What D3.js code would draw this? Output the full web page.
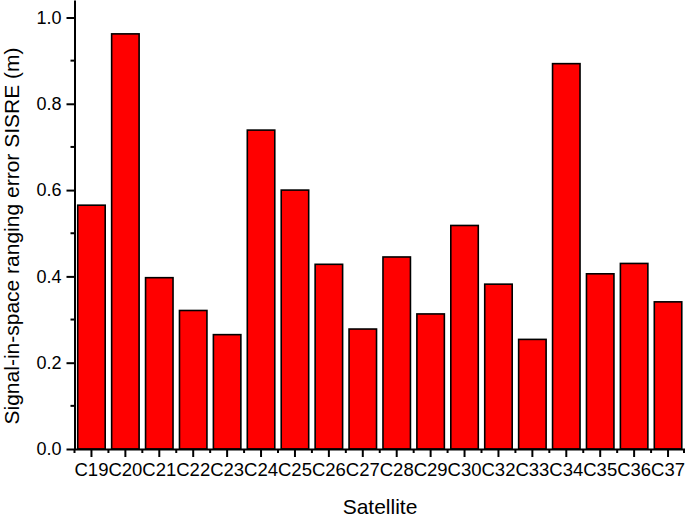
<!DOCTYPE html>
<html><head><meta charset="utf-8">
<script src="https://cdn.jsdelivr.net/npm/d3@7"></script>
<style>body{margin:0;background:#fff}svg{display:block}text{font-family:"Liberation Sans",Arial,sans-serif;fill:#000}</style>
</head><body><svg id="c" width="685" height="520"></svg>
<script>
const categories = ["C19","C20","C21","C22","C23","C24","C25","C26","C27","C28","C29","C30","C32","C33","C34","C35","C36","C37"];
const sisre = [0.565,0.962,0.397,0.321,0.265,0.739,0.600,0.428,0.278,0.445,0.313,0.518,0.382,0.254,0.893,0.406,0.430,0.341];
const yTicks = [0.0,0.2,0.4,0.6,0.8,1.0];
const yMinorTicks = [0.1,0.3,0.5,0.7,0.9];
const xTitle = "Satellite";
const yTitle = "Signal-in-space ranging error SISRE (m)";

const svg = d3.select("#c");
const m = {left:74.5, right:685, top:0, bottom:449};
const x = d3.scaleBand().domain(categories).range([m.left, m.right]).paddingInner(0.19).paddingOuter(0.095);
const xb = d3.scaleBand().domain(categories).range([m.left, m.right]);
const y = d3.scaleLinear().domain([0, 1.0405]).range([m.bottom, m.top]);

// bars
svg.append("g").selectAll("rect").data(sisre).join("rect")
  .attr("x",(d,i)=>x(categories[i]))
  .attr("y",d=>y(d))
  .attr("width",x.bandwidth())
  .attr("height",d=>y(0)-y(d))
  .attr("fill","#ff0000").attr("stroke","#000").attr("stroke-width",1.6);

// y axis
const ya = svg.append("g").attr("transform",`translate(${m.left},0)`)
  .call(d3.axisLeft(y).tickValues(yTicks).tickFormat(d3.format(".1f")).tickSize(8).tickSizeOuter(0).tickPadding(5));
ya.select(".domain").attr("stroke-width",2);
ya.selectAll(".tick line").attr("stroke-width",2);
ya.selectAll("text").style("font-size","18px");
svg.append("g").selectAll("line").data(yMinorTicks).join("line")
  .attr("x1",m.left-4).attr("x2",m.left).attr("y1",d=>y(d)).attr("y2",d=>y(d))
  .attr("stroke","#000").attr("stroke-width",2);

// x axis
const xa = svg.append("g").attr("transform",`translate(0,${m.bottom})`)
  .call(d3.axisBottom(x).tickSize(8).tickSizeOuter(0).tickPadding(6));
xa.select(".domain").attr("stroke-width",2);
xa.selectAll(".tick line").attr("stroke-width",2);
xa.selectAll("text").style("font-size","18.5px");
const bounds = categories.map(c=>xb(c)).concat([m.right-1]);
svg.append("g").selectAll("line").data(bounds).join("line")
  .attr("x1",d=>d).attr("x2",d=>d).attr("y1",m.bottom).attr("y2",m.bottom+4)
  .attr("stroke","#000").attr("stroke-width",2);

// titles
svg.append("text").attr("x",380).attr("y",514).attr("text-anchor","middle").style("font-size","21px").text(xTitle);
svg.append("text").attr("transform",`translate(18.5,236) rotate(-90)`).attr("text-anchor","middle").style("font-size","21px").text(yTitle);
</script></body></html>
